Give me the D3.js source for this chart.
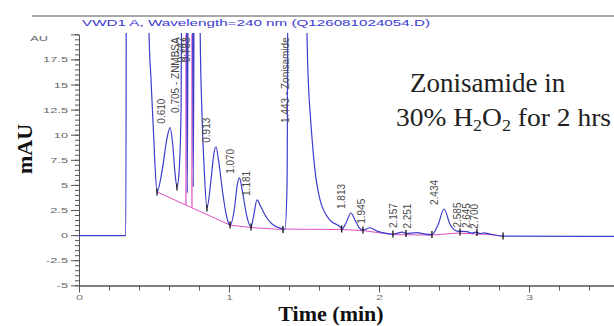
<!DOCTYPE html>
<html>
<head>
<meta charset="utf-8">
<script src="https://cdn.jsdelivr.net/npm/d3@7"></script>
<style>
  body { margin: 0; background: #fff; }
  svg { display: block; }
</style>
</head>
<body>
<div id="chart"></div>
<script>
// detector signal, [time (min), mAU]; values above 20 are off scale
const signal = [
  [0, -0.05], [0.30, -0.05], [0.312, -0.05], [0.318, 45], [0.455, 45], [0.467, 20],
  [0.48, 15.5], [0.493, 11.4], [0.505, 7.5], [0.52, 4.3], [0.555, 6.5], [0.585, 9.5],
  [0.607, 10.7], [0.625, 9.0], [0.64, 6.2], [0.653, 4.8], [0.668, 6.5], [0.68, 12],
  [0.69, 45], [0.712, 45], [0.722, 4.2], [0.732, 45], [0.752, 45], [0.762, 4.8],
  [0.772, 45], [0.80, 45], [0.808, 20], [0.82, 12], [0.835, 6.5], [0.853, 2.7],
  [0.88, 5.5], [0.9, 8.2], [0.913, 8.8], [0.93, 7.5], [0.96, 4.0], [0.985, 1.8],
  [1.007, 1.0], [1.035, 2.5], [1.055, 5.0], [1.07, 5.7], [1.09, 4.3], [1.12, 1.8],
  [1.147, 0.8], [1.165, 2.0], [1.187, 3.5], [1.21, 2.9], [1.24, 2.0], [1.287, 1.1],
  [1.34, 0.7], [1.373, 0.6], [1.387, 5], [1.397, 45], [1.51, 45], [1.52, 20],
  [1.533, 14], [1.54, 12.4], [1.573, 6.5], [1.607, 3.5], [1.673, 1.5], [1.74, 0.83],
  [1.753, 0.6], [1.78, 1.2], [1.813, 2.2], [1.84, 1.5], [1.87, 0.7], [1.893, 0.5],
  [1.94, 0.73], [1.987, 0.4], [2.04, 0.2], [2.093, 0.1], [2.157, 0.3], [2.18, 0.15],
  [2.251, 0.25], [2.307, 0.1], [2.353, 0.05], [2.393, 1.0], [2.434, 2.6], [2.473, 1.1],
  [2.52, 0.4], [2.585, 0.35], [2.62, 0.2], [2.645, 0.3], [2.675, 0.15], [2.70, 0.22],
  [2.74, 0.1], [2.827, -0.1], [3.6, -0.12]
];

// integration baselines (pink)
const baseA = [[0.52, 4.3], [1.007, 1.0], [1.147, 0.75], [1.36, 0.55]];
const baseB = [[1.373, 0.6], [1.753, 0.55], [1.893, 0.45], [2.093, 0.05], [2.353, 0.0],
               [2.52, 0.2], [2.74, 0.05], [2.83, -0.1]];
const dropLines = [[0.713, 3.0], [0.753, 2.7]];

// start / end marks of integrated peaks
const marks = [[0.52, 4.3], [0.653, 4.8], [0.853, 2.7], [1.007, 1.0], [1.147, 0.8], [1.36, 0.55],
               [1.751, 0.6], [1.893, 0.5], [2.093, 0.1], [2.18, 0.15], [2.353, 0.05],
               [2.54, 0.3], [2.653, 0.25], [2.827, -0.1]];

// retention time labels: [time, apex mAU, text]
const peakLabels = [
  [0.610, 10.7, '0.610'], [0.705, 99, '0.705 - ZNMBSA'], [0.747, 99, '0.747'],
  [0.783, 99, '0.783'], [0.913, 8.8, '0.913'], [1.070, 5.7, '1.070'], [1.181, 3.5, '1.181'],
  [1.443, 99, '1.443 - Zonisamide'], [1.813, 2.2, '1.813'], [1.945, 0.73, '1.945'],
  [2.157, 0.3, '2.157'], [2.251, 0.25, '2.251'], [2.434, 2.6, '2.434'],
  [2.585, 0.35, '2.585'], [2.645, 0.3, '2.645'], [2.700, 0.22, '2.700']
];

const yTicks = [-5, -2.5, 0, 2.5, 5, 7.5, 10, 12.5, 15, 17.5];
const xTicks = [0, 1, 2, 3];

const width = 614, height = 326;
const stretch = 1.6; // the instrument text is drawn wide

const svg = d3.select('#chart').append('svg')
  .attr('width', width)
  .attr('height', height);

const x = d3.scaleLinear().domain([0, 3.6]).range([79, 619]);
const y = d3.scaleLinear().domain([-5, 20]).range([285.3, 34.3]);

svg.append('defs').append('clipPath').attr('id', 'plot')
  .append('rect').attr('x', 79).attr('y', 33).attr('width', 540).attr('height', 254);

// frame line and title
svg.append('line')
  .attr('x1', 32).attr('x2', width).attr('y1', 16).attr('y2', 16)
  .attr('stroke', '#8a8a8a').attr('stroke-width', 1.5);

svg.append('text')
  .attr('x', 82).attr('y', 25.5)
  .attr('textLength', 348).attr('lengthAdjust', 'spacingAndGlyphs')
  .style('font-family', 'Liberation Sans, Arial, sans-serif')
  .style('font-size', '9.5px')
  .attr('fill', '#3a3ad0')
  .text('VWD1 A, Wavelength=240 nm (Q126081024054.D)');

// y axis
const yMinor = svg.append('g').attr('transform', 'translate(79,0)')
  .call(d3.axisLeft(y).tickValues(d3.range(-5, 20.01, 0.5)).tickSize(4).tickSizeOuter(0).tickFormat(''));
const yAxis = svg.append('g').attr('transform', 'translate(79,0)')
  .call(d3.axisLeft(y).tickValues(yTicks.concat([20])).tickSize(8).tickSizeOuter(0)
    .tickFormat(d => d === 20 ? '' : String(d)));
yAxis.selectAll('text')
  .attr('x', -11 / stretch)
  .attr('transform', `scale(${stretch},1)`)
  .attr('fill', '#666')
  .style('font-family', 'Liberation Sans, Arial, sans-serif')
  .style('font-size', '8px');

svg.append('text')
  .attr('transform', `translate(48,${y(20) + 7}) scale(${stretch},1)`)
  .attr('text-anchor', 'end')
  .style('font-family', 'Liberation Sans, Arial, sans-serif')
  .style('font-size', '8px')
  .attr('fill', '#666')
  .text('AU');

// x axis
const xMinor = svg.append('g').attr('transform', 'translate(0,285.5)')
  .call(d3.axisBottom(x).tickValues(d3.range(0, 3.61, 0.2)).tickSize(5).tickSizeOuter(0).tickFormat(''));
const xAxis = svg.append('g').attr('transform', 'translate(0,285.5)')
  .call(d3.axisBottom(x).tickValues(xTicks).tickSize(7).tickSizeOuter(0).tickFormat(d => String(d)));
xAxis.selectAll('text')
  .attr('x', 0)
  .attr('y', 9)
  .attr('transform', `scale(${stretch},1)`)
  .attr('fill', '#777')
  .style('font-family', 'Liberation Sans, Arial, sans-serif')
  .style('font-size', '8px');

[yMinor, yAxis, xMinor, xAxis].forEach(g => {
  g.selectAll('path, line').attr('stroke', '#555');
});

const plot = svg.append('g').attr('clip-path', 'url(#plot)');

const line = d3.line().x(d => x(d[0])).y(d => y(d[1]));

// pink baselines and drop lines
[baseA, baseB].forEach(b => {
  plot.append('path').datum(b)
    .attr('d', line)
    .attr('fill', 'none')
    .attr('stroke', '#e050c0')
    .attr('stroke-width', 1);
});

plot.selectAll('.drop')
  .data(dropLines)
  .enter()
  .append('line')
  .attr('x1', d => x(d[0])).attr('x2', d => x(d[0]))
  .attr('y1', d => y(d[1])).attr('y2', y(20))
  .attr('stroke', '#e050c0')
  .attr('stroke-width', 1.2);

// the trace
plot.append('path').datum(signal)
  .attr('d', line.curve(d3.curveMonotoneX))
  .attr('fill', 'none')
  .attr('stroke', '#3d3dcc')
  .attr('stroke-width', 1.2);

plot.selectAll('.mark')
  .data(marks)
  .enter()
  .append('line')
  .attr('x1', d => x(d[0])).attr('x2', d => x(d[0]))
  .attr('y1', d => y(d[1]) - 3.5).attr('y2', d => y(d[1]) + 3.5)
  .attr('stroke', '#111')
  .attr('stroke-width', 1.3);

// retention time labels
svg.selectAll('.rt')
  .data(peakLabels)
  .enter()
  .append('text')
  .attr('transform', d => {
    const top = y(d[1]) < y(20);
    return `translate(${x(d[0]) - 6},${top ? y(20) + 3 : y(d[1]) - 4}) rotate(-90)`;
  })
  .attr('text-anchor', d => y(d[1]) < y(20) ? 'end' : 'start')
  .style('font-family', 'Liberation Sans, Arial, sans-serif')
  .style('font-size', '10px')
  .attr('fill', '#4a4a4a')
  .text(d => d[2]);

// axis titles
svg.append('text')
  .attr('transform', 'translate(32,149) rotate(-90)')
  .attr('text-anchor', 'middle')
  .style('font-family', 'Liberation Serif, Times New Roman, serif')
  .style('font-weight', 'bold')
  .style('font-size', '22px')
  .attr('fill', '#111')
  .text('mAU');

svg.append('text')
  .attr('x', 331).attr('y', 321)
  .attr('text-anchor', 'middle')
  .style('font-family', 'Liberation Serif, Times New Roman, serif')
  .style('font-weight', 'bold')
  .style('font-size', '22px')
  .attr('fill', '#111')
  .text('Time (min)');

// annotation
const note = svg.append('g')
  .style('font-family', 'Liberation Serif, Times New Roman, serif')
  .attr('fill', '#222');

note.append('text')
  .attr('x', 410).attr('y', 92)
  .style('font-size', '27px')
  .text('Zonisamide in');

const line2 = note.append('text')
  .attr('x', 396).attr('y', 126)
  .attr('textLength', 215).attr('lengthAdjust', 'spacingAndGlyphs')
  .style('font-size', '26px');
line2.append('tspan').text('30% H');
line2.append('tspan').attr('dy', 5).style('font-size', '17px').text('2');
line2.append('tspan').attr('dy', -5).text('O');
line2.append('tspan').attr('dy', 5).style('font-size', '17px').text('2');
line2.append('tspan').attr('dy', -5).text(' for 2 hrs');
</script>
</body>
</html>
